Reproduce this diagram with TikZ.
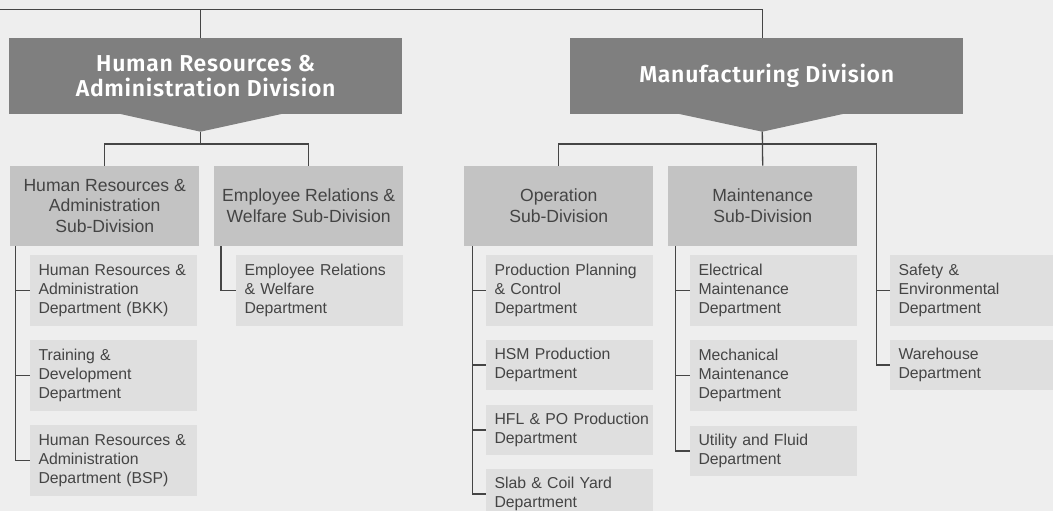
\documentclass[tikz,border=0pt]{standalone}
\usepackage{fontspec}
\setmainfont{Liberation Sans}
\newfontfamily\headfont{Fira Sans SemiBold}[LetterSpace=3]
\definecolor{bggray}{HTML}{EEEEEE}
\definecolor{divgray}{HTML}{7F7F7F}
\definecolor{subgray}{HTML}{C3C3C3}
\definecolor{deptgray}{HTML}{DFDFDF}
\definecolor{linegray}{HTML}{454545}
\definecolor{txtgray}{HTML}{444444}
\begin{document}
\begin{tikzpicture}[x=1pt,y=-1pt,
  divbox/.style={fill=divgray, anchor=north west, minimum width=393pt, minimum height=75.7pt,
    inner sep=0pt, text=white, align=center,
    font={\headfont\fontsize{23}{25.7}\selectfont}},
  subbox/.style={fill=subgray, anchor=north west, minimum width=189pt, minimum height=80pt,
    inner sep=0pt, text=txtgray, align=center,
    font={\fontsize{17.6}{20.8}\selectfont}},
  deptbox/.style={fill=deptgray, anchor=north west, text width=150.4pt, inner xsep=8.3pt,
    inner ysep=0pt, align=left, text=txtgray,
    font={\fontsize{15.8}{18.7}\selectfont}},
  dept3/.style={deptbox, minimum height=70.7pt},
  dept2/.style={deptbox, minimum height=49.7pt},
  link/.style={draw=linegray, line width=1.3pt}
]
% canvas
\fill[bggray] (0,0) rectangle (1053,511);
\useasboundingbox (0,0) rectangle (1053,511);

% divisions with their pointed lower edge
\node[divbox] (hrdiv) at (9,38) {Human Resources \&\\Administration Division};
\node[divbox] (mfgdiv) at (570,38) {Manufacturing Division};
\coordinate (hrtip) at (200.5,131.7);
\coordinate (mfgtip) at (762.3,131.7);
\fill[divgray] (116,113) -- (hrtip) -- (286,113) -- cycle;
\fill[divgray] (674.7,113) -- (mfgtip) -- (847.3,113) -- cycle;

% top bar feeding both divisions
\coordinate (root) at (0,9.5);
\draw[link] (root) -| (mfgtip |- mfgdiv.north);
\draw[link] (hrtip |- root) -- (hrtip |- hrdiv.north);

% sub-divisions
\node[subbox] (hrsub) at (10,165.7) {Human Resources \&\\Administration\\Sub-Division};
\node[subbox] (ersub) at (214,165.7) {Employee Relations \&\\Welfare Sub-Division};
\node[subbox] (opsub) at (464,165.7) {Operation\\Sub-Division};
\node[subbox] (mtsub) at (668,165.7) {Maintenance\\Sub-Division};

% departments
\node[dept3] (hr1) at (30,255) {Human Resources \&\\Administration\\Department (BKK)};
\node[dept3] (hr2) at (30,340) {Training \&\\Development\\Department};
\node[dept3] (hr3) at (30,425) {Human Resources \&\\Administration\\Department (BSP)};
\node[dept3] (er1) at (236,255) {Employee Relations\\\& Welfare\\Department};
\node[dept3] (op1) at (486,255) {Production Planning\\\& Control\\Department};
\node[dept2] (op2) at (486,340) {HSM Production\\Department};
\node[dept2] (op3) at (486,405) {\mbox{HFL \& PO Production}\\Department};
\node[dept2] (op4) at (486,469) {Slab \& Coil Yard\\Department};
\node[dept3] (mt1) at (690,255) {Electrical\\Maintenance\\Department};
\node[dept3] (mt2) at (690,340) {Mechanical\\Maintenance\\Department};
\node[dept2] (mt3) at (690,426) {Utility and Fluid\\Department};
\node[dept3] (sf) at (890,255) {Safety \&\\Environmental\\Department};
\node[dept2] (wh) at (890,340) {Warehouse\\Department};

% division to sub-division buses
\coordinate (hrbus) at (200.5,144);
\coordinate (mfgbus) at (762.3,144);
\draw[link] (hrtip) -- (hrbus);
\draw[link] (hrsub.north) |- (hrbus) -| (ersub.north);
\draw[link] (mfgtip) -- (mtsub.north);

% department spines
\coordinate (hrsp) at ([xshift=-14.3pt]hr1.west);
\coordinate (ersp) at ([xshift=-15pt]er1.west);
\coordinate (opsp) at ([xshift=-13.7pt]op1.west);
\coordinate (mtsp) at ([xshift=-14.3pt]mt1.west);
\coordinate (sfsp) at ([xshift=-13.7pt]sf.west);

\draw[link] (opsub.north) |- (sfsp |- mfgbus) |- (wh.west);
\draw[link] (sfsp) -- (sf.west);

\draw[link] (hrsp |- hrsub.south) |- (hr3.west);
\draw[link] (hrsp |- hr1.west) -- (hr1.west);
\draw[link] (hrsp |- hr2.west) -- (hr2.west);

\draw[link] (ersp |- ersub.south) |- (er1.west);

\draw[link] (opsp |- opsub.south) |- (op4.west);
\draw[link] (opsp |- op1.west) -- (op1.west);
\draw[link] (opsp |- op2.west) -- (op2.west);
\draw[link] (opsp |- op3.west) -- (op3.west);

\draw[link] (mtsp |- mtsub.south) |- (mt3.west);
\draw[link] (mtsp |- mt1.west) -- (mt1.west);
\draw[link] (mtsp |- mt2.west) -- (mt2.west);
\end{tikzpicture}
\end{document}
